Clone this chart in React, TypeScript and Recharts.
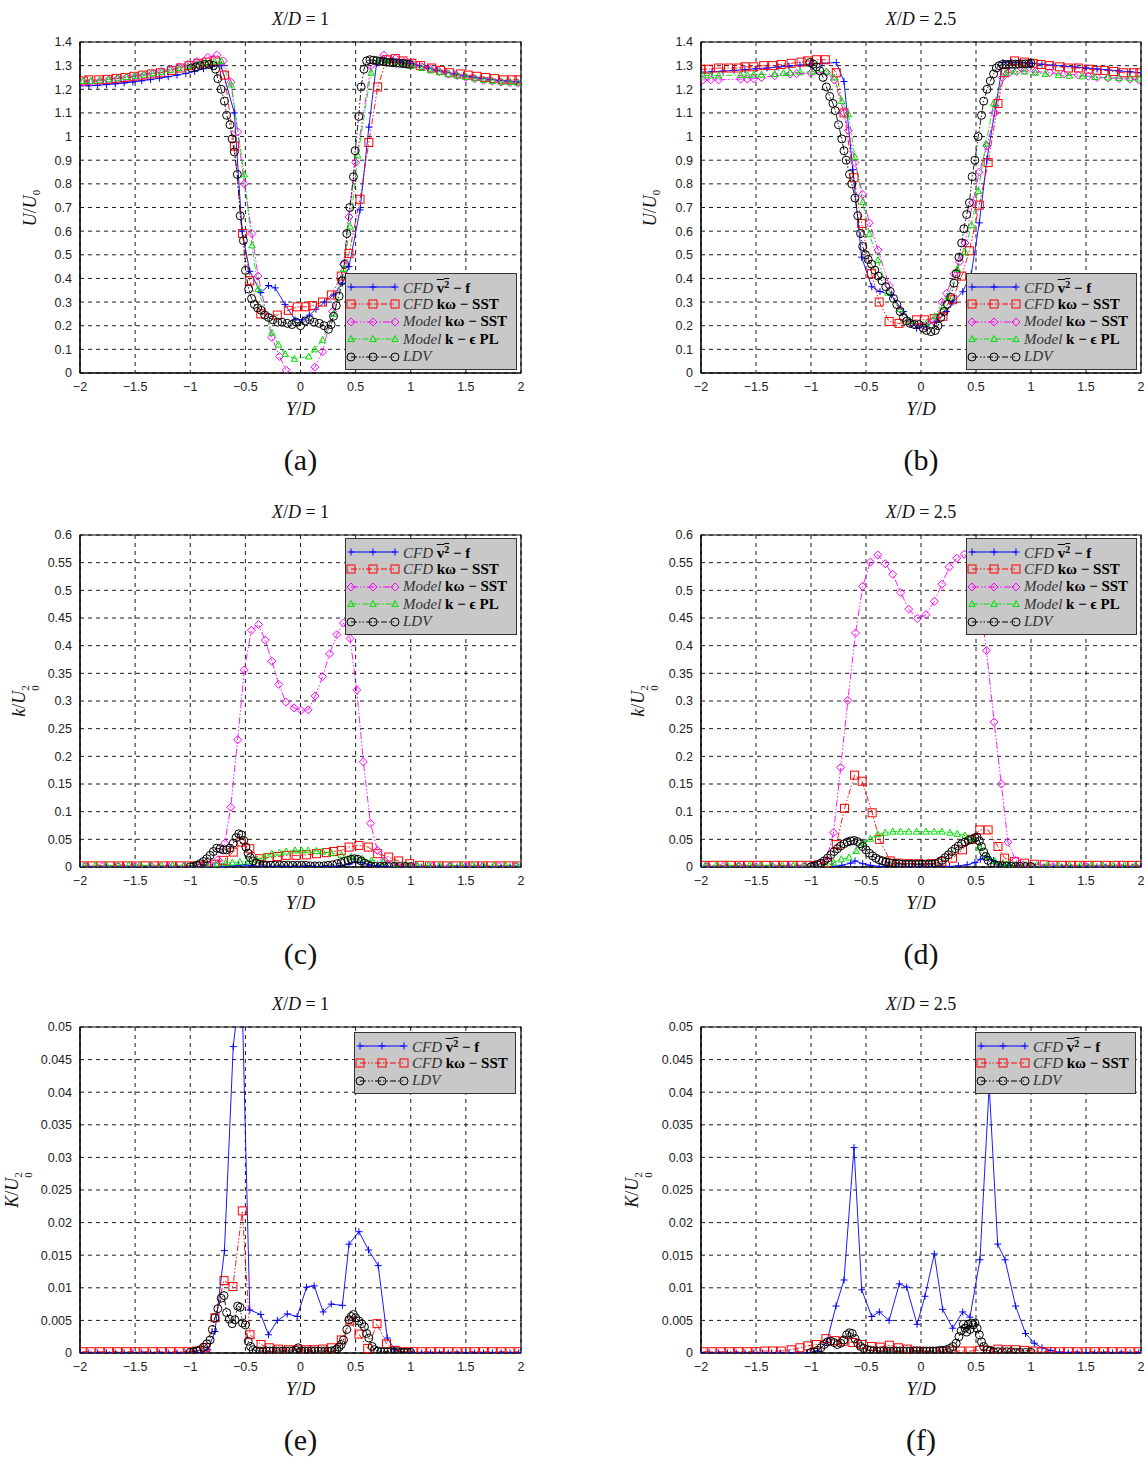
import React from 'react';
import { LineChart, Line, XAxis, YAxis, CartesianGrid, ReferenceArea } from 'recharts';

type Pt = [number, number];

const xTicks = [-2, -1.5, -1, -0.5, 0, 0.5, 1, 1.5, 2];
const uTicks = [0, 0.1, 0.2, 0.3, 0.4, 0.5, 0.6, 0.7, 0.8, 0.9, 1, 1.1, 1.2, 1.3, 1.4];
const kTicks = [0, 0.05, 0.1, 0.15, 0.2, 0.25, 0.3, 0.35, 0.4, 0.45, 0.5, 0.55, 0.6];
const bigKTicks = [0, 0.005, 0.01, 0.015, 0.02, 0.025, 0.03, 0.035, 0.04, 0.045, 0.05];

// (a) U/U0, X/D = 1
const aV2f: Pt[] = [[-2,1.215],[-1.92,1.215],[-1.84,1.217],[-1.76,1.22],[-1.68,1.223],[-1.6,1.227],[-1.52,1.231],[-1.44,1.236],[-1.36,1.241],[-1.28,1.247],[-1.2,1.253],[-1.12,1.26],[-1.04,1.267],[-0.96,1.276],[-0.88,1.287],[-0.8,1.298],[-0.72,1.3],[-0.6,1.1],[-0.53,0.6],[-0.46,0.43],[-0.36,0.34],[-0.29,0.37],[-0.23,0.36],[-0.14,0.29],[-0.05,0.225],[0.02,0.225],[0.08,0.245],[0.14,0.27],[0.22,0.3],[0.3,0.33],[0.38,0.38],[0.44,0.45],[0.54,0.69],[0.62,1.04],[0.69,1.31],[0.76,1.325],[0.84,1.32],[0.92,1.315],[1,1.31],[1.08,1.3],[1.16,1.29],[1.24,1.28],[1.32,1.272],[1.4,1.265],[1.48,1.258],[1.56,1.252],[1.64,1.247],[1.72,1.242],[1.8,1.238],[1.88,1.235],[1.96,1.232],[2,1.23]];
const aSst: Pt[] = [[-1.97,1.235],[-1.92,1.24],[-1.83,1.24],[-1.75,1.242],[-1.67,1.246],[-1.59,1.25],[-1.51,1.255],[-1.43,1.26],[-1.35,1.265],[-1.27,1.27],[-1.17,1.28],[-1.09,1.29],[-1.01,1.3],[-0.93,1.31],[-0.85,1.315],[-0.77,1.32],[-0.69,1.26],[-0.6,0.96],[-0.525,0.59],[-0.46,0.39],[-0.36,0.25],[-0.21,0.245],[-0.11,0.265],[-0.03,0.28],[0.05,0.28],[0.11,0.285],[0.2,0.3],[0.28,0.33],[0.37,0.41],[0.44,0.505],[0.54,0.735],[0.62,0.975],[0.7,1.21],[0.78,1.325],[0.86,1.33],[0.93,1.32],[1.01,1.31],[1.09,1.3],[1.19,1.29],[1.27,1.28],[1.35,1.27],[1.45,1.265],[1.52,1.26],[1.6,1.255],[1.68,1.25],[1.76,1.245],[1.84,1.24],[1.92,1.24],[1.98,1.24]];
const aModSst: Pt[] = [[-1.97,1.23],[-1.9,1.232],[-1.82,1.235],[-1.74,1.24],[-1.66,1.245],[-1.58,1.25],[-1.5,1.255],[-1.42,1.26],[-1.34,1.268],[-1.26,1.275],[-1.18,1.285],[-1.1,1.295],[-1.02,1.305],[-0.94,1.318],[-0.84,1.335],[-0.76,1.345],[-0.7,1.32],[-0.63,1.23],[-0.57,1.02],[-0.51,0.8],[-0.44,0.59],[-0.385,0.41],[-0.26,0.15],[-0.19,0.07],[-0.13,0.012],[0,-0.03],[0.13,0.025],[0.2,0.09],[0.29,0.26],[0.39,0.46],[0.44,0.66],[0.5,0.89],[0.64,1.3],[0.755,1.345],[0.86,1.33],[0.94,1.315],[1.02,1.305],[1.1,1.295],[1.18,1.285],[1.26,1.275],[1.34,1.265],[1.42,1.258],[1.5,1.25],[1.58,1.245],[1.66,1.238],[1.74,1.234],[1.82,1.23],[1.9,1.228],[1.97,1.226]];
const aModKe: Pt[] = [[-1.97,1.235],[-1.9,1.235],[-1.82,1.238],[-1.74,1.242],[-1.66,1.247],[-1.58,1.252],[-1.5,1.257],[-1.42,1.262],[-1.34,1.267],[-1.26,1.274],[-1.18,1.282],[-1.1,1.29],[-1.02,1.298],[-0.94,1.306],[-0.86,1.313],[-0.78,1.318],[-0.72,1.32],[-0.63,1.22],[-0.51,0.84],[-0.44,0.54],[-0.385,0.355],[-0.26,0.17],[-0.2,0.12],[-0.14,0.08],[-0.055,0.06],[0.075,0.07],[0.13,0.1],[0.2,0.14],[0.3,0.25],[0.39,0.44],[0.45,0.62],[0.52,0.92],[0.64,1.27],[0.7,1.32],[0.78,1.32],[0.86,1.315],[0.94,1.31],[1.02,1.3],[1.1,1.29],[1.18,1.28],[1.26,1.272],[1.34,1.265],[1.42,1.258],[1.5,1.252],[1.58,1.246],[1.66,1.24],[1.74,1.236],[1.82,1.232],[1.9,1.23],[1.97,1.228]];
const aLdv: Pt[] = [[-0.99,1.29],[-0.95,1.295],[-0.91,1.3],[-0.87,1.305],[-0.83,1.305],[-0.79,1.3],[-0.77,1.285],[-0.75,1.245],[-0.72,1.2],[-0.69,1.15],[-0.67,1.09],[-0.64,1.05],[-0.62,0.99],[-0.6,0.935],[-0.573,0.84],[-0.547,0.665],[-0.518,0.56],[-0.499,0.434],[-0.47,0.355],[-0.444,0.315],[-0.418,0.29],[-0.389,0.275],[-0.356,0.265],[-0.324,0.245],[-0.29,0.235],[-0.25,0.225],[-0.207,0.215],[-0.168,0.215],[-0.12,0.21],[-0.078,0.205],[-0.039,0.215],[0,0.2],[0.042,0.22],[0.084,0.225],[0.123,0.215],[0.17,0.21],[0.214,0.2],[0.253,0.185],[0.278,0.205],[0.3,0.24],[0.324,0.285],[0.35,0.325],[0.376,0.39],[0.4,0.46],[0.42,0.59],[0.447,0.7],[0.48,0.83],[0.496,0.94],[0.528,1.085],[0.55,1.21],[0.576,1.285],[0.6,1.32],[0.63,1.325],[0.66,1.323],[0.69,1.321],[0.72,1.319],[0.75,1.317],[0.78,1.315],[0.81,1.314],[0.84,1.312],[0.87,1.311],[0.9,1.31],[0.93,1.309],[0.96,1.307],[0.99,1.305]];

// (b) U/U0, X/D = 2.5
const bV2f: Pt[] = [[-2,1.272],[-1.9,1.274],[-1.8,1.277],[-1.7,1.28],[-1.6,1.283],[-1.5,1.287],[-1.4,1.29],[-1.3,1.294],[-1.2,1.298],[-1.1,1.302],[-1,1.306],[-0.9,1.31],[-0.77,1.313],[-0.7,1.233],[-0.62,0.86],[-0.54,0.49],[-0.448,0.365],[-0.373,0.345],[-0.27,0.33],[-0.16,0.26],[-0.04,0.19],[0.05,0.2],[0.14,0.22],[0.23,0.26],[0.29,0.3],[0.38,0.344],[0.457,0.42],[0.53,0.635],[0.6,0.906],[0.68,1.13],[0.745,1.313],[0.82,1.315],[0.9,1.313],[1,1.31],[1.1,1.306],[1.2,1.302],[1.3,1.298],[1.4,1.294],[1.5,1.29],[1.6,1.286],[1.7,1.282],[1.8,1.278],[1.9,1.274],[2,1.27]];
const bSst: Pt[] = [[-2,1.285],[-1.93,1.285],[-1.84,1.29],[-1.75,1.29],[-1.66,1.29],[-1.6,1.295],[-1.52,1.295],[-1.43,1.3],[-1.35,1.3],[-1.27,1.305],[-1.18,1.31],[-1.09,1.315],[-1.03,1.32],[-0.95,1.325],[-0.87,1.325],[-0.77,1.27],[-0.7,1.1],[-0.61,0.826],[-0.54,0.632],[-0.45,0.42],[-0.38,0.3],[-0.29,0.218],[-0.2,0.21],[-0.04,0.225],[0.03,0.225],[0.12,0.23],[0.2,0.24],[0.285,0.31],[0.37,0.41],[0.44,0.517],[0.53,0.71],[0.61,0.89],[0.7,1.14],[0.76,1.27],[0.85,1.32],[0.94,1.315],[1.02,1.31],[1.09,1.305],[1.17,1.3],[1.26,1.295],[1.34,1.29],[1.43,1.29],[1.52,1.285],[1.6,1.28],[1.67,1.28],[1.75,1.275],[1.84,1.27],[1.93,1.27],[1.99,1.27]];
const bModSst: Pt[] = [[-1.98,1.24],[-1.91,1.24],[-1.84,1.24],[-1.64,1.243],[-1.58,1.243],[-1.52,1.245],[-1.45,1.25],[-1.33,1.257],[-1.19,1.264],[-1.13,1.266],[-1,1.268],[-0.86,1.271],[-0.79,1.24],[-0.7,1.1],[-0.66,1.025],[-0.6,0.89],[-0.53,0.756],[-0.47,0.635],[-0.39,0.52],[-0.29,0.37],[-0.19,0.27],[-0.09,0.21],[0.02,0.2],[0.11,0.22],[0.19,0.3],[0.233,0.337],[0.3,0.42],[0.35,0.47],[0.4,0.55],[0.47,0.72],[0.53,0.85],[0.6,0.96],[0.67,1.1],[0.74,1.25],[0.8,1.27],[0.87,1.275],[0.94,1.28],[1.04,1.275],[1.17,1.27],[1.3,1.265],[1.43,1.26],[1.52,1.255],[1.6,1.25],[1.7,1.248],[1.8,1.245],[1.9,1.243],[1.98,1.24]];
const bModKe: Pt[] = [[-1.98,1.258],[-1.91,1.258],[-1.84,1.258],[-1.64,1.26],[-1.58,1.26],[-1.52,1.262],[-1.45,1.262],[-1.33,1.265],[-1.25,1.268],[-1.19,1.27],[-1.1,1.272],[-0.98,1.275],[-0.86,1.275],[-0.79,1.25],[-0.72,1.15],[-0.66,1.095],[-0.6,0.913],[-0.53,0.723],[-0.47,0.587],[-0.39,0.477],[-0.3,0.34],[-0.19,0.27],[-0.1,0.22],[0.05,0.21],[0.125,0.24],[0.2,0.28],[0.245,0.323],[0.33,0.44],[0.4,0.513],[0.457,0.625],[0.52,0.77],[0.59,0.97],[0.66,1.14],[0.77,1.27],[0.85,1.275],[0.94,1.275],[1.04,1.27],[1.13,1.265],[1.25,1.26],[1.35,1.258],[1.47,1.255],[1.58,1.252],[1.7,1.25],[1.8,1.248],[1.9,1.247],[1.98,1.245]];
const bLdv: Pt[] = [[-1.01,1.313],[-0.98,1.306],[-0.95,1.295],[-0.92,1.278],[-0.89,1.25],[-0.86,1.21],[-0.83,1.17],[-0.8,1.14],[-0.78,1.11],[-0.75,1.05],[-0.72,0.99],[-0.7,0.94],[-0.68,0.9],[-0.65,0.84],[-0.63,0.8],[-0.6,0.74],[-0.575,0.665],[-0.55,0.59],[-0.53,0.535],[-0.505,0.5],[-0.48,0.48],[-0.45,0.46],[-0.42,0.435],[-0.39,0.41],[-0.355,0.39],[-0.32,0.365],[-0.28,0.345],[-0.25,0.315],[-0.22,0.29],[-0.19,0.26],[-0.16,0.235],[-0.13,0.22],[-0.1,0.21],[-0.06,0.205],[-0.02,0.205],[0.02,0.19],[0.05,0.18],[0.09,0.175],[0.13,0.18],[0.155,0.2],[0.18,0.235],[0.21,0.26],[0.24,0.29],[0.27,0.32],[0.3,0.38],[0.32,0.42],[0.345,0.49],[0.37,0.55],[0.39,0.61],[0.415,0.67],[0.44,0.72],[0.465,0.83],[0.49,0.9],[0.52,1],[0.55,1.09],[0.57,1.15],[0.6,1.2],[0.63,1.235],[0.66,1.265],[0.685,1.29],[0.71,1.3],[0.74,1.305],[0.77,1.305],[0.8,1.305],[0.83,1.306],[0.86,1.306],[0.89,1.307],[0.92,1.307],[0.95,1.308],[0.98,1.308],[1,1.31]];

// (c) k/U0^2, X/D = 1
const cV2f: Pt[] = [[-2,0],[-1.92,0],[-1.84,0],[-1.76,0],[-1.68,0],[-1.6,0],[-1.52,0],[-1.44,0],[-1.36,0],[-1.28,0],[-1.2,0],[-1.12,0],[-1.04,0],[-0.96,0],[-0.88,0],[-0.8,0],[-0.72,0.001],[-0.64,0.002],[-0.56,0.003],[-0.5,0.004],[-0.44,0.002],[-0.36,0.001],[-0.28,0.001],[-0.2,0.001],[-0.12,0.001],[-0.04,0.001],[0.04,0.001],[0.12,0.001],[0.2,0.001],[0.28,0.001],[0.36,0.002],[0.44,0.005],[0.5,0.009],[0.56,0.008],[0.62,0.004],[0.7,0.002],[0.78,0.001],[0.86,0],[0.94,0],[1.02,0],[1.1,0],[1.18,0],[1.26,0],[1.34,0],[1.42,0],[1.5,0],[1.58,0],[1.66,0],[1.74,0],[1.82,0],[1.9,0],[1.98,0]];
const cSst: Pt[] = [[-1.97,0.002],[-1.89,0.002],[-1.81,0.002],[-1.73,0.002],[-1.65,0.002],[-1.57,0.002],[-1.49,0.002],[-1.41,0.002],[-1.33,0.002],[-1.25,0.002],[-1.17,0.002],[-1.09,0.002],[-1.01,0.002],[-0.93,0.002],[-0.85,0.003],[-0.78,0.005],[-0.7,0.012],[-0.61,0.027],[-0.54,0.045],[-0.46,0.033],[-0.37,0.015],[-0.285,0.017],[-0.21,0.019],[-0.13,0.021],[-0.04,0.021],[0.055,0.022],[0.145,0.024],[0.236,0.026],[0.3,0.028],[0.37,0.03],[0.44,0.036],[0.53,0.039],[0.615,0.036],[0.7,0.024],[0.8,0.018],[0.89,0.011],[0.99,0.006],[1.08,0.003],[1.17,0.002],[1.25,0.002],[1.33,0.002],[1.41,0.002],[1.49,0.002],[1.57,0.002],[1.65,0.002],[1.73,0.002],[1.81,0.002],[1.89,0.002],[1.97,0.002]];
const cModSst: Pt[] = [[-1.95,0.001],[-1.8,0.001],[-1.65,0.001],[-1.5,0.001],[-1.35,0.001],[-1.2,0.001],[-1.05,0.001],[-0.93,0.001],[-0.87,0.002],[-0.81,0.004],[-0.75,0.013],[-0.687,0.043],[-0.633,0.108],[-0.57,0.23],[-0.51,0.356],[-0.445,0.428],[-0.38,0.438],[-0.32,0.41],[-0.26,0.372],[-0.197,0.33],[-0.133,0.298],[-0.058,0.2875],[0.005,0.283],[0.07,0.284],[0.133,0.309],[0.2,0.344],[0.264,0.385],[0.33,0.42],[0.39,0.441],[0.45,0.413],[0.51,0.32],[0.57,0.19],[0.635,0.079],[0.698,0.03],[0.76,0.012],[0.82,0.004],[0.88,0.002],[0.95,0.001],[1.05,0.001],[1.2,0.001],[1.35,0.001],[1.5,0.001],[1.65,0.001],[1.8,0.001],[1.95,0.001]];
const cModKe: Pt[] = [[-1.96,0.003],[-1.86,0.003],[-1.76,0.003],[-1.66,0.003],[-1.56,0.003],[-1.46,0.003],[-1.36,0.003],[-1.26,0.003],[-1.16,0.003],[-1.06,0.003],[-0.96,0.003],[-0.86,0.004],[-0.76,0.006],[-0.68,0.007],[-0.62,0.008],[-0.55,0.009],[-0.47,0.01],[-0.4,0.013],[-0.33,0.019],[-0.26,0.024],[-0.19,0.026],[-0.13,0.028],[-0.05,0.03],[0.01,0.03],[0.07,0.03],[0.145,0.029],[0.2,0.028],[0.28,0.025],[0.37,0.022],[0.46,0.018],[0.56,0.015],[0.645,0.012],[0.75,0.009],[0.86,0.006],[0.96,0.004],[1.06,0.003],[1.16,0.003],[1.26,0.003],[1.36,0.003],[1.46,0.003],[1.56,0.003],[1.66,0.003],[1.76,0.003],[1.86,0.003],[1.96,0.003]];
const cLdv: Pt[] = [[-1,0.0005],[-0.97,0.001],[-0.94,0.003],[-0.91,0.006],[-0.88,0.01],[-0.85,0.015],[-0.82,0.021],[-0.79,0.028],[-0.76,0.034],[-0.73,0.033],[-0.7,0.031],[-0.67,0.031],[-0.64,0.034],[-0.61,0.043],[-0.585,0.053],[-0.56,0.06],[-0.536,0.058],[-0.515,0.048],[-0.495,0.036],[-0.476,0.025],[-0.455,0.017],[-0.43,0.011],[-0.4,0.007],[-0.37,0.005],[-0.34,0.004],[-0.31,0.003],[-0.27,0.003],[-0.23,0.003],[-0.19,0.003],[-0.15,0.003],[-0.11,0.003],[-0.07,0.003],[-0.03,0.003],[0.01,0.003],[0.05,0.003],[0.09,0.002],[0.13,0.002],[0.17,0.002],[0.21,0.002],[0.25,0.003],[0.29,0.004],[0.33,0.006],[0.37,0.008],[0.4,0.01],[0.43,0.012],[0.46,0.014],[0.49,0.015],[0.52,0.014],[0.55,0.011],[0.58,0.007],[0.61,0.004],[0.64,0.002],[0.68,0.001],[0.72,0.001],[0.76,0.001],[0.8,0.001],[0.85,0.001],[0.9,0.001],[0.95,0.001],[1,0.001]];

// (d) k/U0^2, X/D = 2.5
const dV2f: Pt[] = [[-2,0],[-1.92,0],[-1.84,0],[-1.76,0],[-1.68,0],[-1.6,0],[-1.52,0],[-1.44,0],[-1.36,0],[-1.28,0],[-1.2,0],[-1.12,0],[-1.04,0],[-0.96,0],[-0.88,0],[-0.8,0.001],[-0.72,0.003],[-0.64,0.007],[-0.6,0.011],[-0.53,0.006],[-0.46,0.003],[-0.38,0.001],[-0.3,0.001],[-0.22,0.001],[-0.14,0.001],[-0.06,0.001],[0.02,0.001],[0.1,0.001],[0.18,0.001],[0.26,0.001],[0.34,0.002],[0.42,0.004],[0.49,0.008],[0.54,0.014],[0.6,0.019],[0.66,0.012],[0.72,0.005],[0.8,0.002],[0.88,0.001],[0.96,0],[1.04,0],[1.12,0],[1.2,0],[1.28,0],[1.36,0],[1.44,0],[1.52,0],[1.6,0],[1.68,0],[1.76,0],[1.84,0],[1.92,0],[2,0]];
const dSst: Pt[] = [[-1.97,0.003],[-1.89,0.003],[-1.81,0.003],[-1.73,0.003],[-1.65,0.003],[-1.57,0.003],[-1.49,0.003],[-1.41,0.003],[-1.33,0.003],[-1.25,0.003],[-1.17,0.003],[-1.09,0.003],[-1.01,0.003],[-0.93,0.004],[-0.85,0.008],[-0.77,0.041],[-0.695,0.106],[-0.604,0.166],[-0.535,0.155],[-0.444,0.098],[-0.378,0.05],[-0.28,0.011],[-0.2,0.007],[-0.11,0.006],[-0.02,0.006],[0.09,0.006],[0.19,0.0096],[0.286,0.016],[0.377,0.031],[0.46,0.05],[0.534,0.067],[0.61,0.067],[0.7,0.037],[0.76,0.016],[0.85,0.0096],[0.94,0.007],[1.03,0.005],[1.12,0.004],[1.2,0.003],[1.28,0.003],[1.36,0.003],[1.44,0.003],[1.52,0.003],[1.6,0.003],[1.68,0.003],[1.76,0.003],[1.84,0.003],[1.92,0.003],[1.99,0.003]];
const dModSst: Pt[] = [[-1.95,0.001],[-1.8,0.001],[-1.65,0.001],[-1.5,0.001],[-1.35,0.001],[-1.2,0.001],[-1.07,0.001],[-1,0.002],[-0.93,0.004],[-0.86,0.012],[-0.795,0.062],[-0.73,0.18],[-0.665,0.301],[-0.595,0.423],[-0.53,0.507],[-0.46,0.551],[-0.393,0.564],[-0.325,0.548],[-0.257,0.529],[-0.184,0.496],[-0.112,0.466],[-0.033,0.449],[0.045,0.456],[0.121,0.48],[0.19,0.511],[0.257,0.542],[0.325,0.558],[0.393,0.565],[0.46,0.55],[0.53,0.49],[0.595,0.391],[0.665,0.262],[0.73,0.15],[0.79,0.045],[0.86,0.012],[0.93,0.004],[1,0.002],[1.07,0.001],[1.2,0.001],[1.35,0.001],[1.5,0.001],[1.65,0.001],[1.8,0.001],[1.95,0.001]];
const dModKe: Pt[] = [[-1.96,0.003],[-1.86,0.003],[-1.76,0.003],[-1.66,0.003],[-1.56,0.003],[-1.46,0.003],[-1.36,0.003],[-1.26,0.003],[-1.16,0.003],[-1.06,0.003],[-0.96,0.003],[-0.87,0.004],[-0.795,0.008],[-0.725,0.014],[-0.655,0.017],[-0.59,0.029],[-0.52,0.043],[-0.46,0.051],[-0.393,0.059],[-0.325,0.062],[-0.257,0.064],[-0.187,0.064],[-0.112,0.064],[-0.04,0.064],[0.045,0.064],[0.12,0.064],[0.19,0.064],[0.263,0.062],[0.33,0.06],[0.4,0.057],[0.47,0.05],[0.535,0.035],[0.605,0.02],[0.67,0.011],[0.745,0.007],[0.8,0.005],[0.87,0.004],[0.95,0.003],[1.05,0.003],[1.15,0.003],[1.25,0.003],[1.35,0.003],[1.45,0.003],[1.55,0.003],[1.65,0.003],[1.75,0.003],[1.85,0.003],[1.95,0.003]];
const dLdv: Pt[] = [[-1,0.0005],[-0.97,0.002],[-0.94,0.004],[-0.91,0.007],[-0.88,0.011],[-0.85,0.016],[-0.82,0.022],[-0.79,0.028],[-0.76,0.033],[-0.73,0.038],[-0.7,0.042],[-0.67,0.045],[-0.64,0.047],[-0.61,0.048],[-0.58,0.046],[-0.555,0.042],[-0.53,0.037],[-0.5,0.031],[-0.47,0.025],[-0.44,0.02],[-0.41,0.016],[-0.38,0.013],[-0.35,0.011],[-0.32,0.009],[-0.29,0.008],[-0.26,0.007],[-0.23,0.006],[-0.2,0.006],[-0.17,0.005],[-0.14,0.005],[-0.11,0.005],[-0.08,0.005],[-0.05,0.005],[-0.02,0.005],[0.01,0.005],[0.04,0.005],[0.07,0.005],[0.1,0.005],[0.13,0.006],[0.16,0.008],[0.19,0.012],[0.22,0.017],[0.25,0.022],[0.28,0.028],[0.31,0.033],[0.34,0.038],[0.37,0.042],[0.4,0.045],[0.43,0.048],[0.46,0.05],[0.49,0.053],[0.51,0.054],[0.53,0.047],[0.55,0.037],[0.57,0.027],[0.59,0.019],[0.61,0.012],[0.64,0.007],[0.67,0.004],[0.7,0.003],[0.74,0.002],[0.78,0.002],[0.82,0.001],[0.86,0.001],[0.9,0.001],[0.95,0.001],[1,0.001]];

// (e) K/U0^2, X/D = 1
const eV2f: Pt[] = [[-2,0],[-1.92,0],[-1.84,0],[-1.76,0],[-1.68,0],[-1.6,0],[-1.52,0],[-1.44,0],[-1.36,0],[-1.28,0],[-1.2,0],[-1.12,0],[-1.04,0],[-0.96,0],[-0.9,0.0001],[-0.84,0.0005],[-0.776,0.0033],[-0.69,0.0157],[-0.61,0.047],[-0.535,0.058],[-0.46,0.0066],[-0.36,0.0059],[-0.29,0.0028],[-0.21,0.005],[-0.12,0.006],[-0.03,0.0056],[0.055,0.0101],[0.124,0.0103],[0.206,0.0063],[0.279,0.0075],[0.38,0.0073],[0.44,0.0167],[0.53,0.0186],[0.617,0.0158],[0.705,0.0134],[0.787,0.0023],[0.857,0.0005],[0.94,0],[1.02,0],[1.1,0],[1.18,0],[1.26,0],[1.34,0],[1.42,0],[1.5,0],[1.58,0],[1.66,0],[1.74,0],[1.82,0],[1.9,0],[1.98,0]];
const eSst: Pt[] = [[-1.98,0.0002],[-1.9,0.0002],[-1.82,0.0002],[-1.74,0.0002],[-1.66,0.0002],[-1.58,0.0002],[-1.5,0.0002],[-1.42,0.0002],[-1.34,0.0002],[-1.26,0.0002],[-1.18,0.0002],[-1.1,0.0002],[-1.02,0.0002],[-0.94,0.0003],[-0.86,0.0008],[-0.776,0.0054],[-0.694,0.0111],[-0.613,0.0102],[-0.528,0.0218],[-0.458,0.0028],[-0.358,0.0013],[-0.283,0.0008],[-0.2,0.0006],[-0.11,0.0005],[-0.03,0.0005],[0.055,0.0005],[0.124,0.0005],[0.2,0.0006],[0.28,0.0008],[0.37,0.002],[0.447,0.0049],[0.53,0.0029],[0.61,0.0007],[0.694,0.0045],[0.78,0.0014],[0.86,0.0004],[0.94,0.0002],[1.02,0.0002],[1.1,0.0002],[1.18,0.0002],[1.26,0.0002],[1.34,0.0002],[1.42,0.0002],[1.5,0.0002],[1.58,0.0002],[1.66,0.0002],[1.74,0.0002],[1.82,0.0002],[1.9,0.0002],[1.98,0.0002]];
const eLdv: Pt[] = [[-1,0.0001],[-0.97,0.0002],[-0.94,0.0003],[-0.91,0.0005],[-0.88,0.0009],[-0.85,0.0014],[-0.82,0.002],[-0.8,0.0036],[-0.776,0.0054],[-0.75,0.0068],[-0.72,0.0084],[-0.694,0.0088],[-0.67,0.0062],[-0.645,0.0052],[-0.62,0.0045],[-0.595,0.0051],[-0.57,0.0072],[-0.548,0.007],[-0.526,0.0046],[-0.5,0.0043],[-0.474,0.0018],[-0.453,0.001],[-0.43,0.0005],[-0.4,0.0003],[-0.37,0.0003],[-0.34,0.0003],[-0.31,0.0003],[-0.28,0.0003],[-0.25,0.0003],[-0.22,0.0003],[-0.19,0.0003],[-0.16,0.0003],[-0.13,0.0003],[-0.1,0.0003],[-0.07,0.0003],[-0.04,0.0004],[-0.02,0.0008],[0.01,0.0003],[0.04,0.0003],[0.07,0.0003],[0.1,0.0003],[0.13,0.0003],[0.16,0.0003],[0.19,0.0003],[0.22,0.0003],[0.25,0.0003],[0.28,0.0003],[0.31,0.0004],[0.33,0.0006],[0.35,0.0009],[0.37,0.0013],[0.39,0.002],[0.42,0.0036],[0.44,0.0051],[0.46,0.0056],[0.48,0.0059],[0.5,0.0054],[0.53,0.0049],[0.555,0.0045],[0.58,0.004],[0.6,0.003],[0.62,0.0023],[0.65,0.001],[0.67,0.0005],[0.7,0.0003],[0.73,0.0002],[0.76,0.0002],[0.79,0.0002],[0.82,0.0002],[0.85,0.0002],[0.88,0.0002],[0.91,0.0001],[0.94,0.0001],[0.97,0.0001],[1,0.0001]];

// (f) K/U0^2, X/D = 2.5
const fV2f: Pt[] = [[-2,0],[-1.92,0],[-1.84,0],[-1.76,0],[-1.68,0],[-1.6,0],[-1.52,0],[-1.44,0],[-1.36,0],[-1.28,0],[-1.2,0],[-1.12,0],[-1.04,0],[-0.94,0.0003],[-0.858,0.0016],[-0.773,0.0072],[-0.7,0.0112],[-0.609,0.0315],[-0.539,0.0097],[-0.448,0.0056],[-0.379,0.0063],[-0.29,0.005],[-0.197,0.0106],[-0.13,0.0101],[-0.036,0.0044],[0.036,0.0087],[0.121,0.0152],[0.197,0.0067],[0.288,0.0038],[0.379,0.0063],[0.445,0.0055],[0.536,0.0143],[0.62,0.041],[0.697,0.0167],[0.764,0.0143],[0.86,0.0072],[0.95,0.003],[1.03,0.0015],[1.1,0.0008],[1.18,0.0004],[1.26,0.0001],[1.34,0],[1.42,0],[1.5,0],[1.58,0],[1.66,0],[1.74,0],[1.82,0],[1.9,0],[1.98,0]];
const fSst: Pt[] = [[-1.98,0.0002],[-1.9,0.0002],[-1.82,0.0002],[-1.74,0.0002],[-1.66,0.0002],[-1.58,0.0002],[-1.5,0.0002],[-1.42,0.0003],[-1.35,0.0003],[-1.27,0.0003],[-1.18,0.0005],[-1.1,0.0008],[-1.03,0.0011],[-0.95,0.0013],[-0.864,0.0022],[-0.782,0.0019],[-0.706,0.0018],[-0.62,0.0016],[-0.54,0.0013],[-0.45,0.001],[-0.37,0.0009],[-0.288,0.0012],[-0.206,0.0008],[-0.124,0.0006],[-0.04,0.0003],[0.04,0.0002],[0.12,0.0002],[0.2,0.0002],[0.28,0.0003],[0.36,0.0003],[0.445,0.0003],[0.53,0.0004],[0.61,0.0004],[0.7,0.0006],[0.78,0.0005],[0.86,0.0005],[0.94,0.0004],[1.02,0.0003],[1.1,0.0002],[1.18,0.0002],[1.26,0.0002],[1.34,0.0002],[1.42,0.0002],[1.5,0.0002],[1.58,0.0002],[1.66,0.0002],[1.74,0.0002],[1.82,0.0002],[1.9,0.0002],[1.98,0.0002]];
const fLdv: Pt[] = [[-1,0.0001],[-0.97,0.0002],[-0.94,0.0004],[-0.91,0.0008],[-0.88,0.0013],[-0.85,0.0017],[-0.82,0.0018],[-0.79,0.0016],[-0.76,0.0013],[-0.73,0.0015],[-0.7,0.002],[-0.675,0.0028],[-0.65,0.0031],[-0.625,0.003],[-0.6,0.0022],[-0.575,0.0015],[-0.55,0.001],[-0.52,0.0007],[-0.49,0.0005],[-0.46,0.0004],[-0.43,0.0003],[-0.4,0.0003],[-0.37,0.0003],[-0.34,0.0003],[-0.31,0.0003],[-0.28,0.0003],[-0.25,0.0003],[-0.22,0.0003],[-0.19,0.0003],[-0.16,0.0003],[-0.13,0.0003],[-0.1,0.0003],[-0.07,0.0003],[-0.04,0.0003],[-0.01,0.0003],[0.02,0.0003],[0.05,0.0003],[0.08,0.0003],[0.11,0.0003],[0.14,0.0003],[0.17,0.0004],[0.2,0.0004],[0.23,0.0005],[0.26,0.0007],[0.29,0.001],[0.32,0.0015],[0.345,0.0025],[0.365,0.0034],[0.385,0.0044],[0.4,0.0038],[0.415,0.0032],[0.43,0.0044],[0.445,0.0036],[0.46,0.0046],[0.475,0.0043],[0.49,0.0046],[0.51,0.0038],[0.53,0.0028],[0.55,0.0017],[0.57,0.001],[0.6,0.0005],[0.63,0.0003],[0.66,0.0002],[0.7,0.0002],[0.74,0.0002],[0.78,0.0002],[0.82,0.0002],[0.86,0.0001],[0.9,0.0001],[0.95,0.0001],[1,0.0001]];

type Kind = 'v2f' | 'sst' | 'modSst' | 'modKe' | 'ldv';

const STYLE: Record<Kind, { color: string; dash?: string; marker: string }> = {
  v2f: { color: '#0000ff', marker: 'plus' },
  sst: { color: '#ff0000', dash: '6 2 1.5 2 1.5 2', marker: 'square' },
  modSst: { color: '#ff00ff', dash: '7 2 1.5 2 1.5 2', marker: 'diamond' },
  modKe: { color: '#00e000', dash: '6 2 1.5 2', marker: 'triangle' },
  ldv: { color: '#000000', dash: '6 2 1.5 2 1.5 2', marker: 'circle' },
};

const serif = '"Liberation Serif", "DejaVu Serif", serif';
const sans = '"Liberation Sans", Arial, sans-serif';

function shape(marker: string, color: string, cx: number, cy: number, key?: any) {
  const common = { stroke: color, strokeWidth: 1, fill: 'none', key };
  switch (marker) {
    case 'plus':
      return <path {...common} d={`M${cx - 3.5},${cy}H${cx + 3.5}M${cx},${cy - 3.5}V${cy + 3.5}`} />;
    case 'square':
      return <rect {...common} x={cx - 4} y={cy - 4} width={8} height={8} />;
    case 'diamond':
      return <path {...common} d={`M${cx},${cy - 4}L${cx + 4},${cy}L${cx},${cy + 4}L${cx - 4},${cy}Z`} />;
    case 'triangle':
      return <path {...common} d={`M${cx},${cy - 3.5}L${cx + 3.2},${cy + 2.5}L${cx - 3.2},${cy + 2.5}Z`} />;
    default:
      return <circle {...common} cx={cx} cy={cy} r={4} />;
  }
}

const dotFor = (kind: Kind) => (props: any) => {
  const { cx, cy, index } = props;
  const key = `${kind}-${index}`;
  if (cx == null || cy == null || Number.isNaN(cx) || Number.isNaN(cy)) return <g key={key} />;
  return shape(STYLE[kind].marker, STYLE[kind].color, cx, cy, key);
};

const LABEL: Record<Kind, React.ReactNode> = {
  v2f: (
    <>
      <i style={{ color: '#333' }}>CFD</i>{' '}
      <b>
        <span style={{ textDecoration: 'overline' }}>
          v<span style={{ fontSize: 10, verticalAlign: 5 }}>2</span>
        </span>{' '}
        − f
      </b>
    </>
  ),
  sst: <><i style={{ color: '#333' }}>CFD</i> <b>kω − SST</b></>,
  modSst: <><i style={{ color: '#333' }}>Model</i> <b>kω − SST</b></>,
  modKe: <><i style={{ color: '#333' }}>Model</i> <b>k − ϵ PL</b></>,
  ldv: <i style={{ color: '#333' }}>LDV</i>,
};

function LegendBox({ left, top, width, keys }: { left: number; top: number; width: number; keys: Kind[] }) {
  return (
    <div
      style={{
        position: 'absolute', left, top, width, height: keys.length * 17.5 + 9,
        background: '#c8c8c8', border: '1px solid #333', boxSizing: 'border-box', paddingTop: 4,
      }}
    >
      {keys.map((k) => (
        <div key={k} style={{ display: 'flex', alignItems: 'center', height: 17.5 }}>
          <svg width={57} height={12} style={{ flex: 'none' }}>
            <line x1={5} y1={6} x2={49} y2={6} stroke={STYLE[k].color} strokeWidth={1} strokeDasharray={STYLE[k].dash} />
            {shape(STYLE[k].marker, STYLE[k].color, 5, 6, 'a')}
            {shape(STYLE[k].marker, STYLE[k].color, 27, 6, 'b')}
            {shape(STYLE[k].marker, STYLE[k].color, 49, 6, 'c')}
          </svg>
          <span style={{ fontFamily: serif, fontSize: 15, whiteSpace: 'nowrap', lineHeight: '15px' }}>{LABEL[k]}</span>
        </div>
      ))}
    </div>
  );
}

const fmtX = (v: number) => (v < 0 ? `−${Math.abs(v)}` : String(v));

const U0 = (
  <span style={{ display: 'inline-flex', flexDirection: 'column', fontSize: 11, lineHeight: '10px', verticalAlign: -4 }}>
    <span>2</span>
    <span>0</span>
  </span>
);

interface PanelProps {
  plotLeft: number;
  plotTop: number;
  plotW: number;
  plotH: number;
  yMax: number;
  yTicks: number[];
  series: { kind: Kind; data: Pt[] }[];
  xd: string;
  yLabel: React.ReactNode;
  yLabelX: number;
  letter: string;
  legendLeft: number;
  legendTop: number;
  legendW: number;
}

function Panel(p: PanelProps) {
  const chartW = 80 + p.plotW + 20;
  const chartH = 30 + p.plotH + 40;
  const cx = p.plotLeft + p.plotW / 2;
  const bottom = p.plotTop + p.plotH;
  const centered = (top: number, extra: React.CSSProperties = {}): React.CSSProperties => ({
    position: 'absolute', left: cx, top, transform: 'translate(-50%, -50%)', whiteSpace: 'nowrap',
    fontFamily: serif, color: '#111', ...extra,
  });
  return (
    <>
      <div style={{ position: 'absolute', left: p.plotLeft - 80, top: p.plotTop - 30 }}>
        <LineChart width={chartW} height={chartH} margin={{ top: 30, right: 20, bottom: 0, left: 0 }}>
          <CartesianGrid stroke="#000" strokeDasharray="4 4" strokeWidth={0.9} />
          <XAxis
            type="number" dataKey="x" domain={[-2, 2]} ticks={xTicks} interval={0} allowDataOverflow
            height={40} tickLine={false} tickSize={0} tickMargin={9} tickFormatter={fmtX}
            axisLine={{ stroke: '#000' }} tick={{ fontSize: 12.5, fill: '#222', fontFamily: sans }}
          />
          <YAxis
            type="number" dataKey="y" domain={[0, p.yMax]} ticks={p.yTicks} interval={0} allowDataOverflow
            width={80} tickLine={false} tickSize={0} tickMargin={8}
            axisLine={{ stroke: '#000' }} tick={{ fontSize: 12.5, fill: '#222', fontFamily: sans }}
          />
          {p.series.map((s) => (
            <Line
              key={s.kind}
              data={s.data.map(([x, y]) => ({ x, y }))}
              dataKey="y"
              type="linear"
              stroke={STYLE[s.kind].color}
              strokeWidth={0.9}
              strokeDasharray={STYLE[s.kind].dash}
              dot={dotFor(s.kind)}
              activeDot={false}
              isAnimationActive={false}
            />
          ))}
          <ReferenceArea x1={-2} x2={2} y1={0} y2={p.yMax} fill="none" stroke="#000" strokeWidth={1.2} />
        </LineChart>
      </div>
      <div style={centered(p.plotTop - 23, { fontSize: 18 })}>
        <i>X</i>/<i>D</i> = {p.xd}
      </div>
      <div style={centered(bottom + 36, { fontSize: 19 })}>
        <i>Y</i>/<i>D</i>
      </div>
      <div style={centered(bottom + 87, { fontSize: 30 })}>{p.letter}</div>
      <div
        style={{
          position: 'absolute', left: p.yLabelX, top: p.plotTop + p.plotH / 2,
          transform: 'translate(-50%, -50%) rotate(-90deg)', whiteSpace: 'nowrap',
          fontFamily: serif, fontSize: 18, color: '#111',
        }}
      >
        {p.yLabel}
      </div>
      <LegendBox
        left={p.legendLeft}
        top={p.legendTop}
        width={p.legendW}
        keys={p.series.map((s) => s.kind)}
      />
    </>
  );
}

const uLabel = <><i>U</i>/<i>U</i><sub style={{ fontSize: 11 }}>0</sub></>;
const kLabel = <><i>k</i>/<i>U</i>{U0}</>;
const bigKLabel = <><i>K</i>/<i>U</i>{U0}</>;

export default function App() {
  return (
    <div style={{ position: 'absolute', left: 0, top: 0, width: 1146, height: 1457, background: '#fff' }}>
      <Panel
        plotLeft={80} plotTop={42} plotW={441} plotH={331} yMax={1.4} yTicks={uTicks} xd="1"
        series={[{ kind: 'v2f', data: aV2f }, { kind: 'sst', data: aSst }, { kind: 'modSst', data: aModSst }, { kind: 'modKe', data: aModKe }, { kind: 'ldv', data: aLdv }]}
        yLabel={uLabel} yLabelX={31} letter="(a)" legendLeft={345} legendTop={273} legendW={172}
      />
      <Panel
        plotLeft={701} plotTop={42} plotW={440} plotH={331} yMax={1.4} yTicks={uTicks} xd="2.5"
        series={[{ kind: 'v2f', data: bV2f }, { kind: 'sst', data: bSst }, { kind: 'modSst', data: bModSst }, { kind: 'modKe', data: bModKe }, { kind: 'ldv', data: bLdv }]}
        yLabel={uLabel} yLabelX={651} letter="(b)" legendLeft={966} legendTop={273} legendW={171}
      />
      <Panel
        plotLeft={80} plotTop={535} plotW={441} plotH={332} yMax={0.6} yTicks={kTicks} xd="1"
        series={[{ kind: 'v2f', data: cV2f }, { kind: 'sst', data: cSst }, { kind: 'modSst', data: cModSst }, { kind: 'modKe', data: cModKe }, { kind: 'ldv', data: cLdv }]}
        yLabel={kLabel} yLabelX={24} letter="(c)" legendLeft={345} legendTop={538} legendW={172}
      />
      <Panel
        plotLeft={701} plotTop={535} plotW={440} plotH={332} yMax={0.6} yTicks={kTicks} xd="2.5"
        series={[{ kind: 'v2f', data: dV2f }, { kind: 'sst', data: dSst }, { kind: 'modSst', data: dModSst }, { kind: 'modKe', data: dModKe }, { kind: 'ldv', data: dLdv }]}
        yLabel={kLabel} yLabelX={643} letter="(d)" legendLeft={966} legendTop={538} legendW={171}
      />
      <Panel
        plotLeft={80} plotTop={1027} plotW={441} plotH={326} yMax={0.05} yTicks={bigKTicks} xd="1"
        series={[{ kind: 'v2f', data: eV2f }, { kind: 'sst', data: eSst }, { kind: 'ldv', data: eLdv }]}
        yLabel={bigKLabel} yLabelX={17} letter="(e)" legendLeft={354} legendTop={1032} legendW={162}
      />
      <Panel
        plotLeft={701} plotTop={1027} plotW={440} plotH={326} yMax={0.05} yTicks={bigKTicks} xd="2.5"
        series={[{ kind: 'v2f', data: fV2f }, { kind: 'sst', data: fSst }, { kind: 'ldv', data: fLdv }]}
        yLabel={bigKLabel} yLabelX={637} letter="(f)" legendLeft={975} legendTop={1032} legendW={161}
      />
    </div>
  );
}
